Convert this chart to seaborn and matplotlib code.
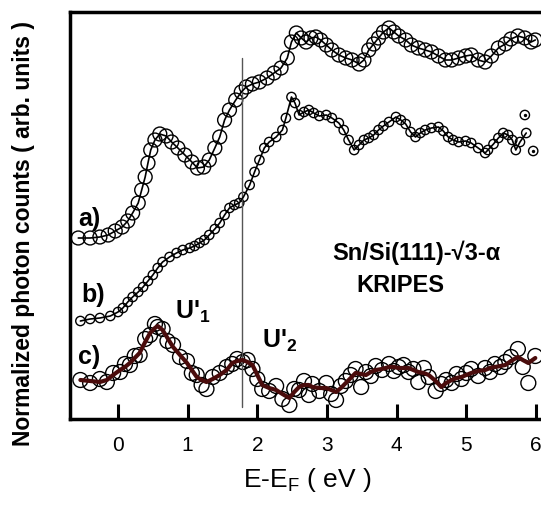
import numpy as np
import pandas as pd
import seaborn as sns
import matplotlib
matplotlib.use('Agg')
import matplotlib.pyplot as plt

# Datos (energia en eV, intensidad en unidades arbitrarias)
energy_a = [-0.57, -0.40, -0.26, -0.14, -0.04, 0.06, 0.14, 0.21, 0.29, 0.34,
            0.39, 0.43, 0.47, 0.53, 0.60, 0.69, 0.77, 0.86, 0.96, 1.06,
            1.14, 1.23, 1.31, 1.39, 1.46, 1.53, 1.60, 1.69, 1.77, 1.84,
            1.93, 2.03, 2.14, 2.24, 2.34, 2.43, 2.49, 2.56, 2.63, 2.70,
            2.77, 2.84, 2.91, 2.99, 3.07, 3.17, 3.27, 3.36, 3.46, 3.53,
            3.60, 3.67, 3.74, 3.81, 3.89, 3.96, 4.03, 4.13, 4.21, 4.31,
            4.41, 4.50, 4.60, 4.70, 4.79, 4.89, 4.99, 5.07, 5.17, 5.27,
            5.36, 5.46, 5.56, 5.64, 5.74, 5.84, 5.93, 5.99]
counts_a = [181, 181, 182, 184, 188, 192, 198, 206, 216, 229,
            242, 256, 269, 279, 285, 283, 277, 271, 264, 257,
            251, 252, 259, 271, 282, 299, 309, 319, 327, 332,
            335, 337, 341, 346, 351, 361, 377, 386, 381, 377,
            381, 382, 379, 374, 369, 364, 361, 359, 355, 359,
            369, 375, 381, 387, 391, 387, 383, 379, 374, 371,
            369, 367, 363, 359, 359, 361, 363, 364, 359, 357,
            363, 371, 375, 380, 383, 381, 377, 379]

energy_b = [-0.54, -0.40, -0.26, -0.11, 0.00, 0.07, 0.14, 0.21, 0.29, 0.36,
            0.43, 0.50, 0.57, 0.64, 0.74, 0.84, 0.93, 1.03, 1.10, 1.17,
            1.24, 1.31, 1.39, 1.46, 1.53, 1.60, 1.67, 1.74, 1.80, 1.89,
            1.96, 2.03, 2.10, 2.17, 2.27, 2.36, 2.41, 2.49, 2.54, 2.60,
            2.67, 2.74, 2.81, 2.89, 2.99, 3.07, 3.17, 3.24, 3.31, 3.39,
            3.46, 3.53, 3.60, 3.67, 3.74, 3.81, 3.89, 3.99, 4.06, 4.13,
            4.20, 4.27, 4.34, 4.41, 4.50, 4.60, 4.67, 4.74, 4.81, 4.89,
            4.99, 5.07, 5.17, 5.27, 5.31, 5.39, 5.46, 5.53, 5.60, 5.66,
            5.71, 5.77, 5.86]
counts_b = [98, 100, 101, 103, 107, 111, 117, 122, 127, 132,
            138, 144, 151, 157, 162, 166, 169, 171, 173, 176,
            179, 184, 190, 196, 204, 211, 214, 216, 222, 234,
            247, 259, 271, 277, 282, 289, 301, 322, 316, 304,
            307, 309, 306, 303, 304, 301, 296, 289, 279, 269,
            274, 279, 281, 284, 289, 293, 297, 302, 299, 295,
            287, 282, 286, 289, 291, 292, 288, 282, 279, 277,
            278, 276, 271, 266, 269, 275, 281, 286, 284, 279,
            269, 277, 286]
# puntos sueltos al final de b
energy_b_extra = [5.84, 5.96]
counts_b_extra = [304, 268]

energy_c = [-0.54, -0.40, -0.26, -0.16, -0.07, 0.03, 0.10, 0.17, 0.24, 0.31,
            0.39, 0.46, 0.53, 0.57, 0.64, 0.71, 0.79, 0.89, 0.99, 1.06,
            1.13, 1.20, 1.27, 1.36, 1.46, 1.56, 1.64, 1.71, 1.79, 1.86,
            1.93, 2.00, 2.07, 2.17, 2.27, 2.36, 2.46, 2.53, 2.60, 2.67,
            2.74, 2.79, 2.89, 2.99, 3.06, 3.13, 3.20, 3.27, 3.34, 3.41,
            3.49, 3.56, 3.63, 3.70, 3.79, 3.89, 3.96, 4.03, 4.10, 4.17,
            4.24, 4.31, 4.39, 4.46, 4.56, 4.64, 4.71, 4.79, 4.86, 4.93,
            5.00, 5.07, 5.17, 5.27, 5.34, 5.41, 5.49, 5.56, 5.64, 5.74,
            5.81, 5.89, 5.99]
counts_c = [39, 36, 40, 37, 46, 47, 55, 54, 63, 64,
            80, 84, 95, 92, 90, 78, 74, 62, 58, 46,
            44, 34, 30, 42, 46, 52, 55, 60, 57, 59,
            50, 40, 30, 28, 33, 20, 14, 30, 29, 38,
            24, 35, 28, 36, 25, 19, 33, 38, 44, 50,
            32, 47, 43, 53, 49, 55, 48, 52, 54, 47,
            50, 37, 51, 42, 28, 35, 39, 36, 45, 40,
            46, 50, 43, 51, 47, 55, 52, 57, 62, 70,
            52, 36, 63]
# curva suavizada de c
fit_c = [39, 38, 37, 39, 44, 49, 52, 56, 61, 66,
         77, 86, 91, 93, 89, 81, 72, 64, 56, 49,
         42, 39, 37, 40, 44, 49, 56, 58, 59, 57,
         54, 44, 34, 31, 29, 25, 21, 27, 32, 34,
         34, 32, 31, 31, 29, 27, 31, 36, 41, 46,
         45, 44, 47, 49, 50, 52, 52, 51, 51, 51,
         49, 47, 46, 44, 38, 32, 36, 39, 41, 42,
         44, 46, 48, 49, 51, 52, 53, 54, 58, 62,
         59, 56, 61]

xticks = [0, 1, 2, 3, 4, 5, 6]
fermi_line = 1.78

df_a = pd.DataFrame({'E': energy_a, 'I': counts_a})
df_b = pd.DataFrame({'E': energy_b, 'I': counts_b})
df_c = pd.DataFrame({'E': energy_c, 'I': counts_c, 'fit': fit_c})
df_bx = pd.DataFrame({'E': energy_b_extra, 'I': counts_b_extra})

sns.set_theme(style='white')
plt.rcParams['font.family'] = ['Liberation Sans', 'DejaVu Sans']
plt.rcParams['mathtext.fontset'] = 'custom'
plt.rcParams['mathtext.rm'] = 'Liberation Sans'
plt.rcParams['mathtext.bf'] = 'Liberation Sans:bold'
plt.rcParams['text.color'] = 'black'
plt.rcParams['axes.labelcolor'] = 'black'
plt.rcParams['xtick.color'] = 'black'

fig = plt.figure(figsize=(5.41, 5.13), dpi=100)
ax = fig.add_axes([70 / 541, 1 - 419 / 513, 474 / 541, 407 / 513])

# linea vertical
ax.plot([fermi_line, fermi_line], [12, 361], color='#555555', lw=1)

# curvas a y b
sns.lineplot(data=df_a, x='E', y='I', ax=ax, color='black', lw=1.2)
sns.scatterplot(data=df_a, x='E', y='I', ax=ax, marker='o', s=100,
                facecolors='none', edgecolor='black', linewidth=1)
sns.lineplot(data=df_b, x='E', y='I', ax=ax, color='black', lw=1.2)
sns.scatterplot(data=df_b, x='E', y='I', ax=ax, marker='o', s=45,
                facecolors='none', edgecolor='black', linewidth=1)
sns.scatterplot(data=df_bx, x='E', y='I', ax=ax, marker='o', s=45,
                facecolors='none', edgecolor='black', linewidth=1)
ax.scatter(energy_b_extra, counts_b_extra, s=2, color='black')

# curva c
sns.scatterplot(data=df_c, x='E', y='I', ax=ax, marker='o', s=115,
                facecolors='none', edgecolor='black', linewidth=1)
sns.lineplot(data=df_c, x='E', y='fit', ax=ax, color='#4a0c0c', lw=3)

ax.set_xlim(-0.689, 6.115)
ax.set_ylim(0, 407)
ax.set_xticks(xticks)
ax.set_xticklabels([str(t) for t in xticks], fontsize=15)
ax.set_yticks([])
ax.tick_params(axis='x', direction='in', length=11, width=2.2, bottom=True, pad=12,
               colors='black')
for side in ['left', 'bottom', 'top']:
    ax.spines[side].set_linewidth(2.5)
    ax.spines[side].set_color('black')
ax.spines['right'].set_visible(False)

ax.set_xlabel('E-E$_\\mathrm{F}$ ( eV )', fontsize=19, labelpad=8)
ax.set_ylabel('')
fig.text(24 / 541, 1 - 233 / 513, 'Normalized photon counts ( arb. units )',
         rotation=90, fontsize=16.5, fontweight='bold', ha='center', va='center')

# etiquetas
ax.text(-0.57, 200, 'a)', fontsize=18, fontweight='bold', va='center')
ax.text(-0.53, 124, 'b)', fontsize=18, fontweight='bold', va='center')
ax.text(-0.58, 62, 'c)', fontsize=18, fontweight='bold', va='center')
ax.text(0.82, 107, "U'$_\\mathbf{1}$", fontsize=18, fontweight='bold', va='center')
ax.text(2.06, 78, "U'$_\\mathbf{2}$", fontsize=18, fontweight='bold', va='center')
ax.text(4.28, 166, 'Sn/Si(111)-\u221a3-\u03b1', fontsize=17, fontweight='bold',
        ha='center', va='center')
ax.text(4.05, 134, 'KRIPES', fontsize=17, fontweight='bold', ha='center', va='center')

fig.savefig('out.png', dpi=100)
